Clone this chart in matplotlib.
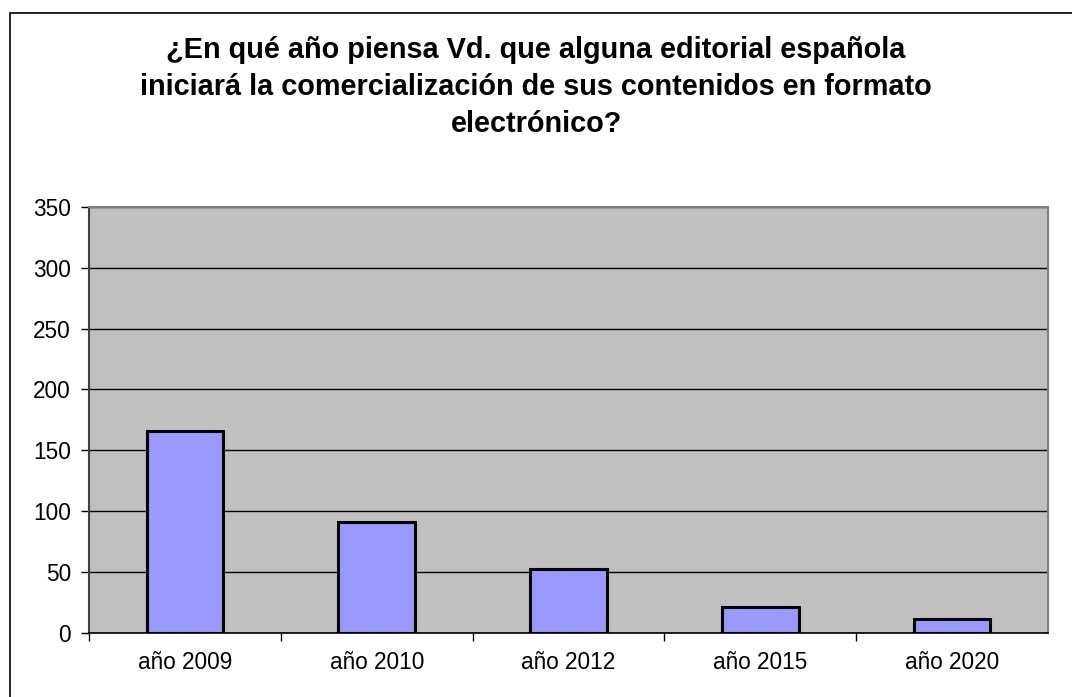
import matplotlib.pyplot as plt
from matplotlib.patches import Rectangle

categorias = ['año 2009', 'año 2010', 'año 2012', 'año 2015', 'año 2020']
valores = [166, 91, 52, 21, 11]
yticks = [0, 50, 100, 150, 200, 250, 300, 350]

titulo = ('¿En qué año piensa Vd. que alguna editorial española\n'
          'iniciará la comercialización de sus contenidos en formato\n'
          'electrónico?')

plt.rcParams['font.family'] = ['Liberation Sans', 'DejaVu Sans']

fig = plt.figure(figsize=(10.72, 6.97), dpi=100)
ax = fig.add_axes([89 / 1072, 64.5 / 697, 959 / 1072, 425.5 / 697])

# borde exterior del gráfico (recortado a derecha y abajo)
fig.patches.append(Rectangle((10 / 1072, -0.1), 1.2, (697 - 13) / 697 + 0.1,
                             transform=fig.transFigure, fill=False,
                             edgecolor='black', linewidth=1.2))

ax.set_facecolor('#C0C0C0')
ax.set_axisbelow(True)
ax.grid(axis='y', color='black', linewidth=1)

x = list(range(len(categorias)))
ax.bar(x, valores, width=0.4, color='#9999FF', edgecolor='black', linewidth=2.2)

ax.set_xlim(-0.5, len(categorias) - 0.5)
ax.set_ylim(0, 350)
ax.set_yticks(yticks)
ax.tick_params(axis='y', labelsize=16.3, length=6, width=1, pad=7, color='black')
ax.set_xticks([i + 0.5 for i in x[:-1]] + [-0.5])
ax.set_xticklabels([])
ax.set_xticks(x, minor=True)
ax.set_xticklabels(categorias, minor=True)
ax.tick_params(axis='x', which='major', length=6, width=1, color='black')
ax.tick_params(axis='x', which='minor', length=0, labelsize=16.3, pad=13)

for s in ['top', 'right']:
    ax.spines[s].set_color('#808080')
    ax.spines[s].set_linewidth(1.5)
ax.spines['left'].set_color('#404040')
ax.spines['left'].set_linewidth(1.5)
ax.spines['bottom'].set_color('black')
ax.spines['bottom'].set_linewidth(1.2)

fig.text(536 / 1072, 1 - 87 / 697, titulo, ha='center', va='center',
         fontsize=20.8, fontweight='bold', linespacing=1.42)

fig.savefig('out.png', dpi=100)
